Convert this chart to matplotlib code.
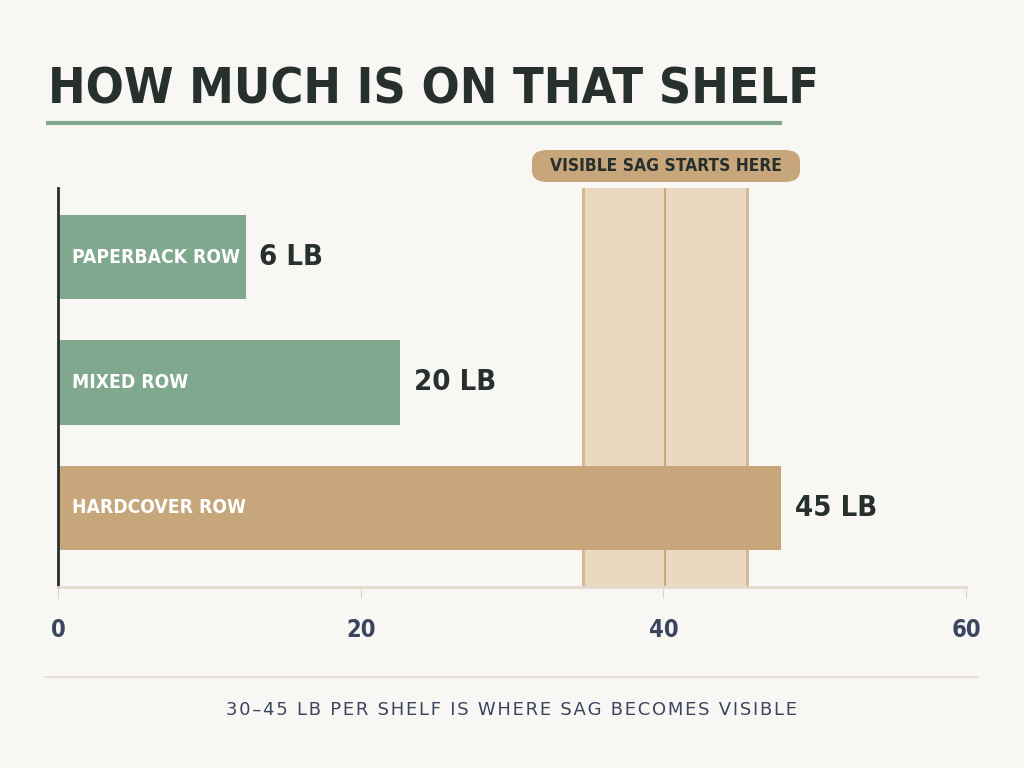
import matplotlib as mpl
mpl.use('Agg')
import matplotlib.pyplot as plt
from matplotlib.patches import FancyBboxPatch

rows = ["PAPERBACK ROW", "MIXED ROW", "HARDCOVER ROW"]
bar_len = [12.4, 22.6, 47.8]      # drawn lengths
labels = ["6 LB", "20 LB", "45 LB"]
colors = ["#7fa88e", "#7fa88e", "#c6a67a"]
band = (34.7, 45.5)
sag_line = 40.1
ticks = [0, 20, 40, 60]
footer = "30\u201345 LB PER SHELF IS WHERE SAG BECOMES VISIBLE"

bg = "#f8f7f3"
dark = "#27302d"
plt.rcParams['font.family'] = ['DejaVu Sans']
plt.rcParams['font.stretch'] = 'condensed'

fig = plt.figure(figsize=(10.24, 7.68), dpi=100, facecolor=bg)
ax = fig.add_axes([58/1024, 1-587/768, 908/1024, 399/768])
ax.set_facecolor(bg)

ax.axvspan(band[0], band[1], color="#ead9c0", zorder=0)
ax.axvline(band[0], color="#d2b68c", lw=2, zorder=1)
ax.axvline(band[1], color="#d2b68c", lw=2, zorder=1)
ax.axvline(sag_line, color="#c9a87c", lw=1.5, zorder=1)

y = range(len(rows))
bars = ax.barh(y, bar_len, height=0.67, color=colors, zorder=2)
for i, b in enumerate(bars):
    ax.text(0.95, i, rows[i], color="white", fontsize=13.8, fontweight='semibold', va='center', zorder=3)
    ax.text(b.get_width() + 0.9, i, labels[i], color=dark, fontsize=21, fontweight='bold', va='center', zorder=3)

ax.set_xlim(0, 60)
ax.set_ylim(2.63, -0.55)
ax.set_xticks(ticks)
ax.set_xticklabels([str(t) for t in ticks], fontweight='semibold')
ax.set_yticks([])
ax.tick_params(axis='x', length=8, color="#ddd5c8", labelsize=17, labelcolor="#3c4560", pad=14)
for s in ['top', 'right']:
    ax.spines[s].set_visible(False)
ax.spines['left'].set_color(dark)
ax.spines['left'].set_linewidth(2)
ax.spines['bottom'].set_color("#e2dbcf")
ax.spines['bottom'].set_linewidth(2)

fig.text(48/1024, 1-90/768, "HOW MUCH IS ON THAT SHELF", fontsize=36, fontweight='bold',
         color=dark, va='center', ha='left')
fig.add_artist(plt.Line2D([48/1024, 780/1024], [1-123/768, 1-123/768], color="#7fa88e", lw=3))
fig.add_artist(plt.Line2D([45/1024, 978/1024], [1-677/768, 1-677/768], color="#e8dccb", lw=1.2))

pill = FancyBboxPatch((532/1024, 1-182/768), 268/1024, 32/768,
                      boxstyle="round,pad=0,rounding_size=0.015", transform=fig.transFigure,
                      facecolor="#c6a67a", edgecolor="none")
fig.add_artist(pill)
fig.text(666/1024, 1-166/768, "VISIBLE SAG STARTS HERE", fontsize=12.5, fontweight='bold',
         color=dark, ha='center', va='center')

fig.text(0.5, 1-710/768, "\u200a".join(footer), fontsize=13,
         color="#3c4560", ha='center', va='center', fontstretch='normal')
plt.savefig("out.png", facecolor=bg)
